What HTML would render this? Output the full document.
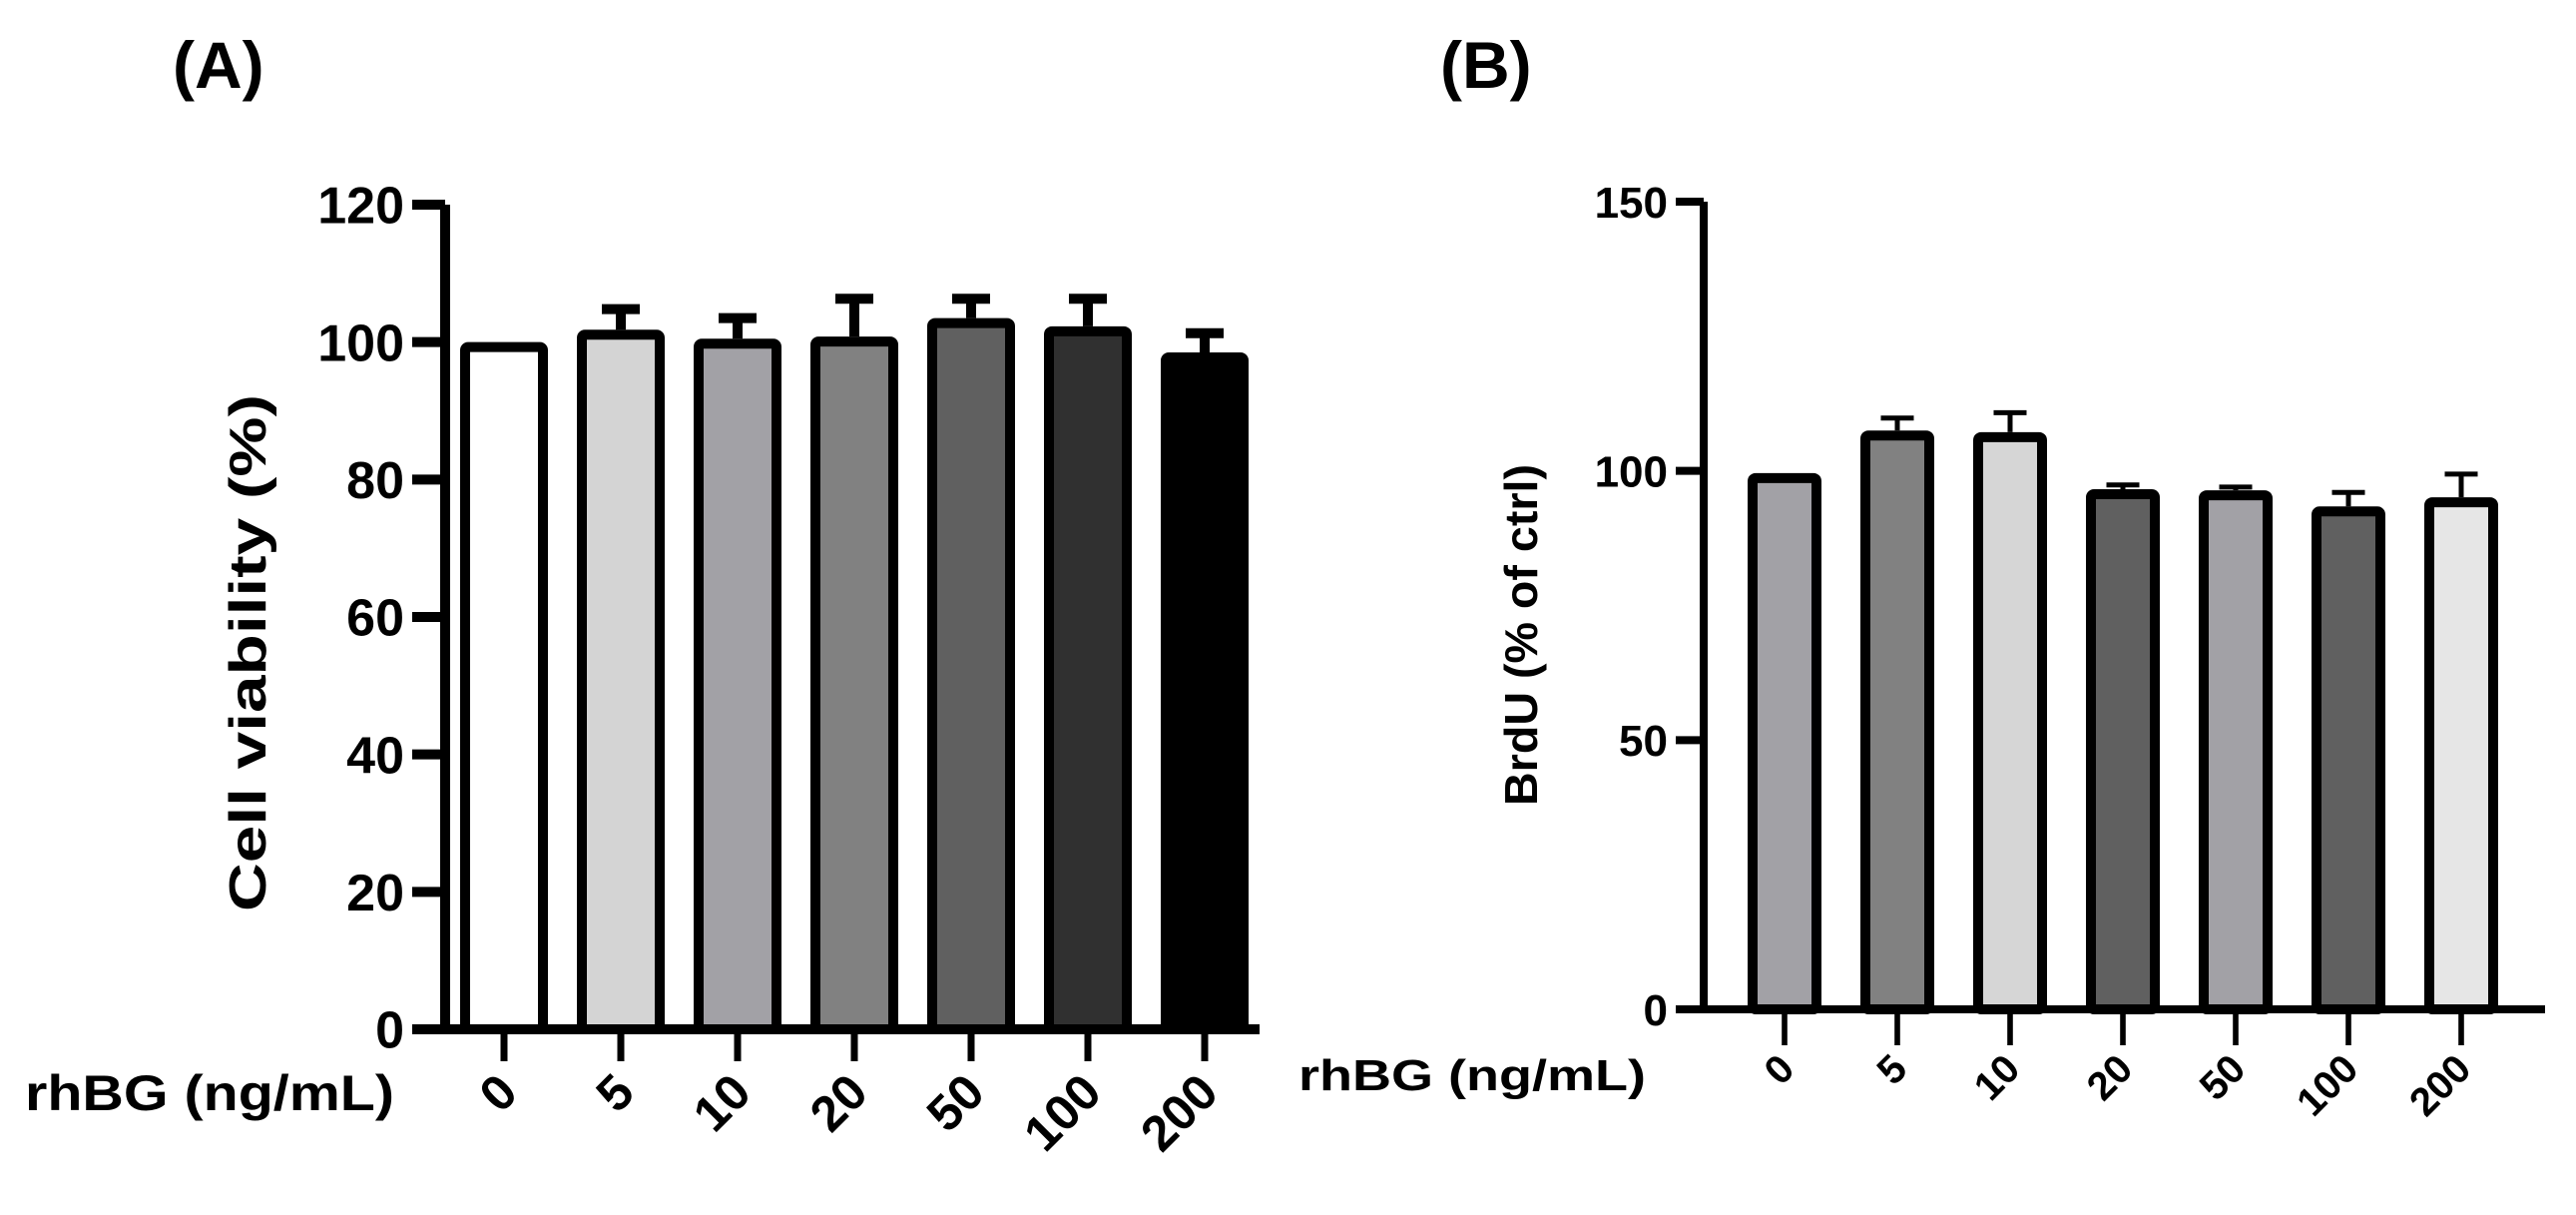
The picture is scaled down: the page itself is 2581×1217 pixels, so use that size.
<!DOCTYPE html>
<html>
<head>
<meta charset="utf-8">
<style>
html,body{margin:0;padding:0;background:#fff;}
svg{display:block;}
text{font-family:"Liberation Sans",Arial,sans-serif;font-weight:bold;fill:#000;}
</style>
</head>
<body>
<svg id="fig" width="2581" height="1217" viewBox="0 0 2581 1217" xmlns="http://www.w3.org/2000/svg">
  <text x="173" y="88" font-size="66">(A)</text>
  <text x="1443" y="88" font-size="66">(B)</text>
  <g id="chartA"></g>
  <g id="chartB"></g>
</svg>
<script>
const categoriesA = ["0","5","10","20","50","100","200"];
const valuesA = [100, 101.8, 100.5, 100.8, 103.5, 102.3, 98.5];
const errorsA = [0, 3, 3, 5.5, 2.8, 4, 2.8];
const colorsA = ["#ffffff","#d4d4d4","#a2a1a6","#818181","#606060","#303030","#000000"];
const ticksA = [0,20,40,60,80,100,120];

const categoriesB = ["0","5","10","20","50","100","200"];
const valuesB = [99.6, 107.5, 107.2, 96.6, 96.4, 93.4, 95.1];
const errorsB = [0, 2.3, 3.6, 0.8, 0.6, 2.6, 4.3];
const colorsB = ["#a2a1a6","#818181","#d6d6d6","#606060","#a2a1a6","#606060","#e6e6e6"];
const ticksB = [0,50,100,150];

const NS = "http://www.w3.org/2000/svg";
function mk(parent, tag, attrs, txt){
  const e = document.createElementNS(NS, tag);
  for (const k in attrs) e.setAttribute(k, attrs[k]);
  if (txt !== undefined) e.textContent = txt;
  parent.appendChild(e);
  return e;
}

function drawChart(g, cfg){
  const y = v => cfg.base - v * (cfg.base - cfg.top) / cfg.max;
  const x = i => cfg.x0 + i * cfg.pitch;
  const ya = mk(g, "line", {x1:cfg.ax, y1:y(cfg.max), x2:cfg.ax, y2:cfg.base, stroke:"#000", "stroke-width":cfg.axw});
  
  
  cfg.ticks.forEach(t => {
    const tl = mk(g, "line", {x1:cfg.ax - cfg.tlen, y1:y(t), x2:cfg.ax, y2:y(t), stroke:"#000", "stroke-width":cfg.axw});
    
    
    const tx = mk(g, "text", {x:cfg.ax - cfg.tlen - 8, y:y(t) + cfg.tfs*0.36, "font-size":cfg.tfs, "text-anchor":"end"}, String(t));
    
    
  });
  cfg.cats.forEach((c, i) => {
    const cx = x(i), v = cfg.vals[i], e = cfg.errs[i];
    const hw = cfg.bw / 2;
    if (e > 0) {
      const ev = mk(g, "line", {x1:cx, y1:y(v), x2:cx, y2:y(v + e), stroke:"#000", "stroke-width":cfg.ew});
      
      
      const ec = mk(g, "line", {x1:cx - cfg.cap/2, y1:y(v + e), x2:cx + cfg.cap/2, y2:y(v + e), stroke:"#000", "stroke-width":cfg.ew});
      
      
    }
    const r = mk(g, "rect", {x:cx - hw + cfg.bsw/2, y:y(v) + cfg.bsw/2, width:cfg.bw - cfg.bsw, height:cfg.base - y(v) - cfg.bsw/2, fill:cfg.cols[i], stroke:"#000", "stroke-width":cfg.bsw, rx:3});
    
    
    const xt = mk(g, "line", {x1:cx, y1:cfg.base, x2:cx, y2:cfg.base + cfg.ticklen, stroke:"#000", "stroke-width":cfg.axw * 0.7});
    
    
    const lx = cx + cfg.lbx, ly = cfg.base + cfg.lby;
    const xl = mk(g, "text", {x:lx, y:ly, "font-size":cfg.xfs, "text-anchor":"end", transform:"rotate(-45 " + lx + " " + ly + ")"}, c);
    
    
  });
  const xa = mk(g, "line", {x1:cfg.ax - cfg.axw/2, y1:cfg.base, x2:cfg.xend, y2:cfg.base, stroke:"#000", "stroke-width":cfg.axw});
  
  
  const yt = mk(g, "text", {x:0, y:0, "font-size":cfg.ytfs, "text-anchor":"middle", textLength:cfg.ytlen, lengthAdjust:"spacingAndGlyphs", transform:"translate(" + cfg.ytx + " " + cfg.yty + ") rotate(-90)"}, cfg.ytitle);
  
  
  const xtt = mk(g, "text", {x:cfg.xtx, y:cfg.xty, "font-size":cfg.xtfs, textLength:cfg.xtitlelen, lengthAdjust:"spacingAndGlyphs"}, "rhBG (ng/mL)");
  
  
}

drawChart(document.getElementById("chartA"), {
  cats:categoriesA, vals:valuesA, errs:errorsA, cols:colorsA, ticks:ticksA,
  base:1031, top:205, max:120, ax:446, axw:10, tlen:33, tfs:52,
  x0:505, pitch:117, bw:88, bsw:10, ew:10, cap:38, ticklen:32, xend:1262,
  lbx:16, lby:66, xfs:50,
  ytitle:"Cell viability (%)", ytfs:52, ytlen:518, ytx:266, yty:654,
  xtx:25, xty:1112, xtfs:50, xtitlelen:370
});
drawChart(document.getElementById("chartB"), {
  cats:categoriesB, vals:valuesB, errs:errorsB, cols:colorsB, ticks:ticksB,
  base:1011, top:202, max:150, ax:1707, axw:8, tlen:28, tfs:44,
  x0:1788, pitch:113, bw:74, bsw:10, ew:5, cap:33, ticklen:36, xend:2550,
  lbx:12, lby:62, xfs:40,
  ytitle:"BrdU (% of ctrl)", ytfs:46, ytlen:342, ytx:1540, yty:636,
  xtx:1301, xty:1092, xtfs:44, xtitlelen:348
});
</script>
</body>
</html>
